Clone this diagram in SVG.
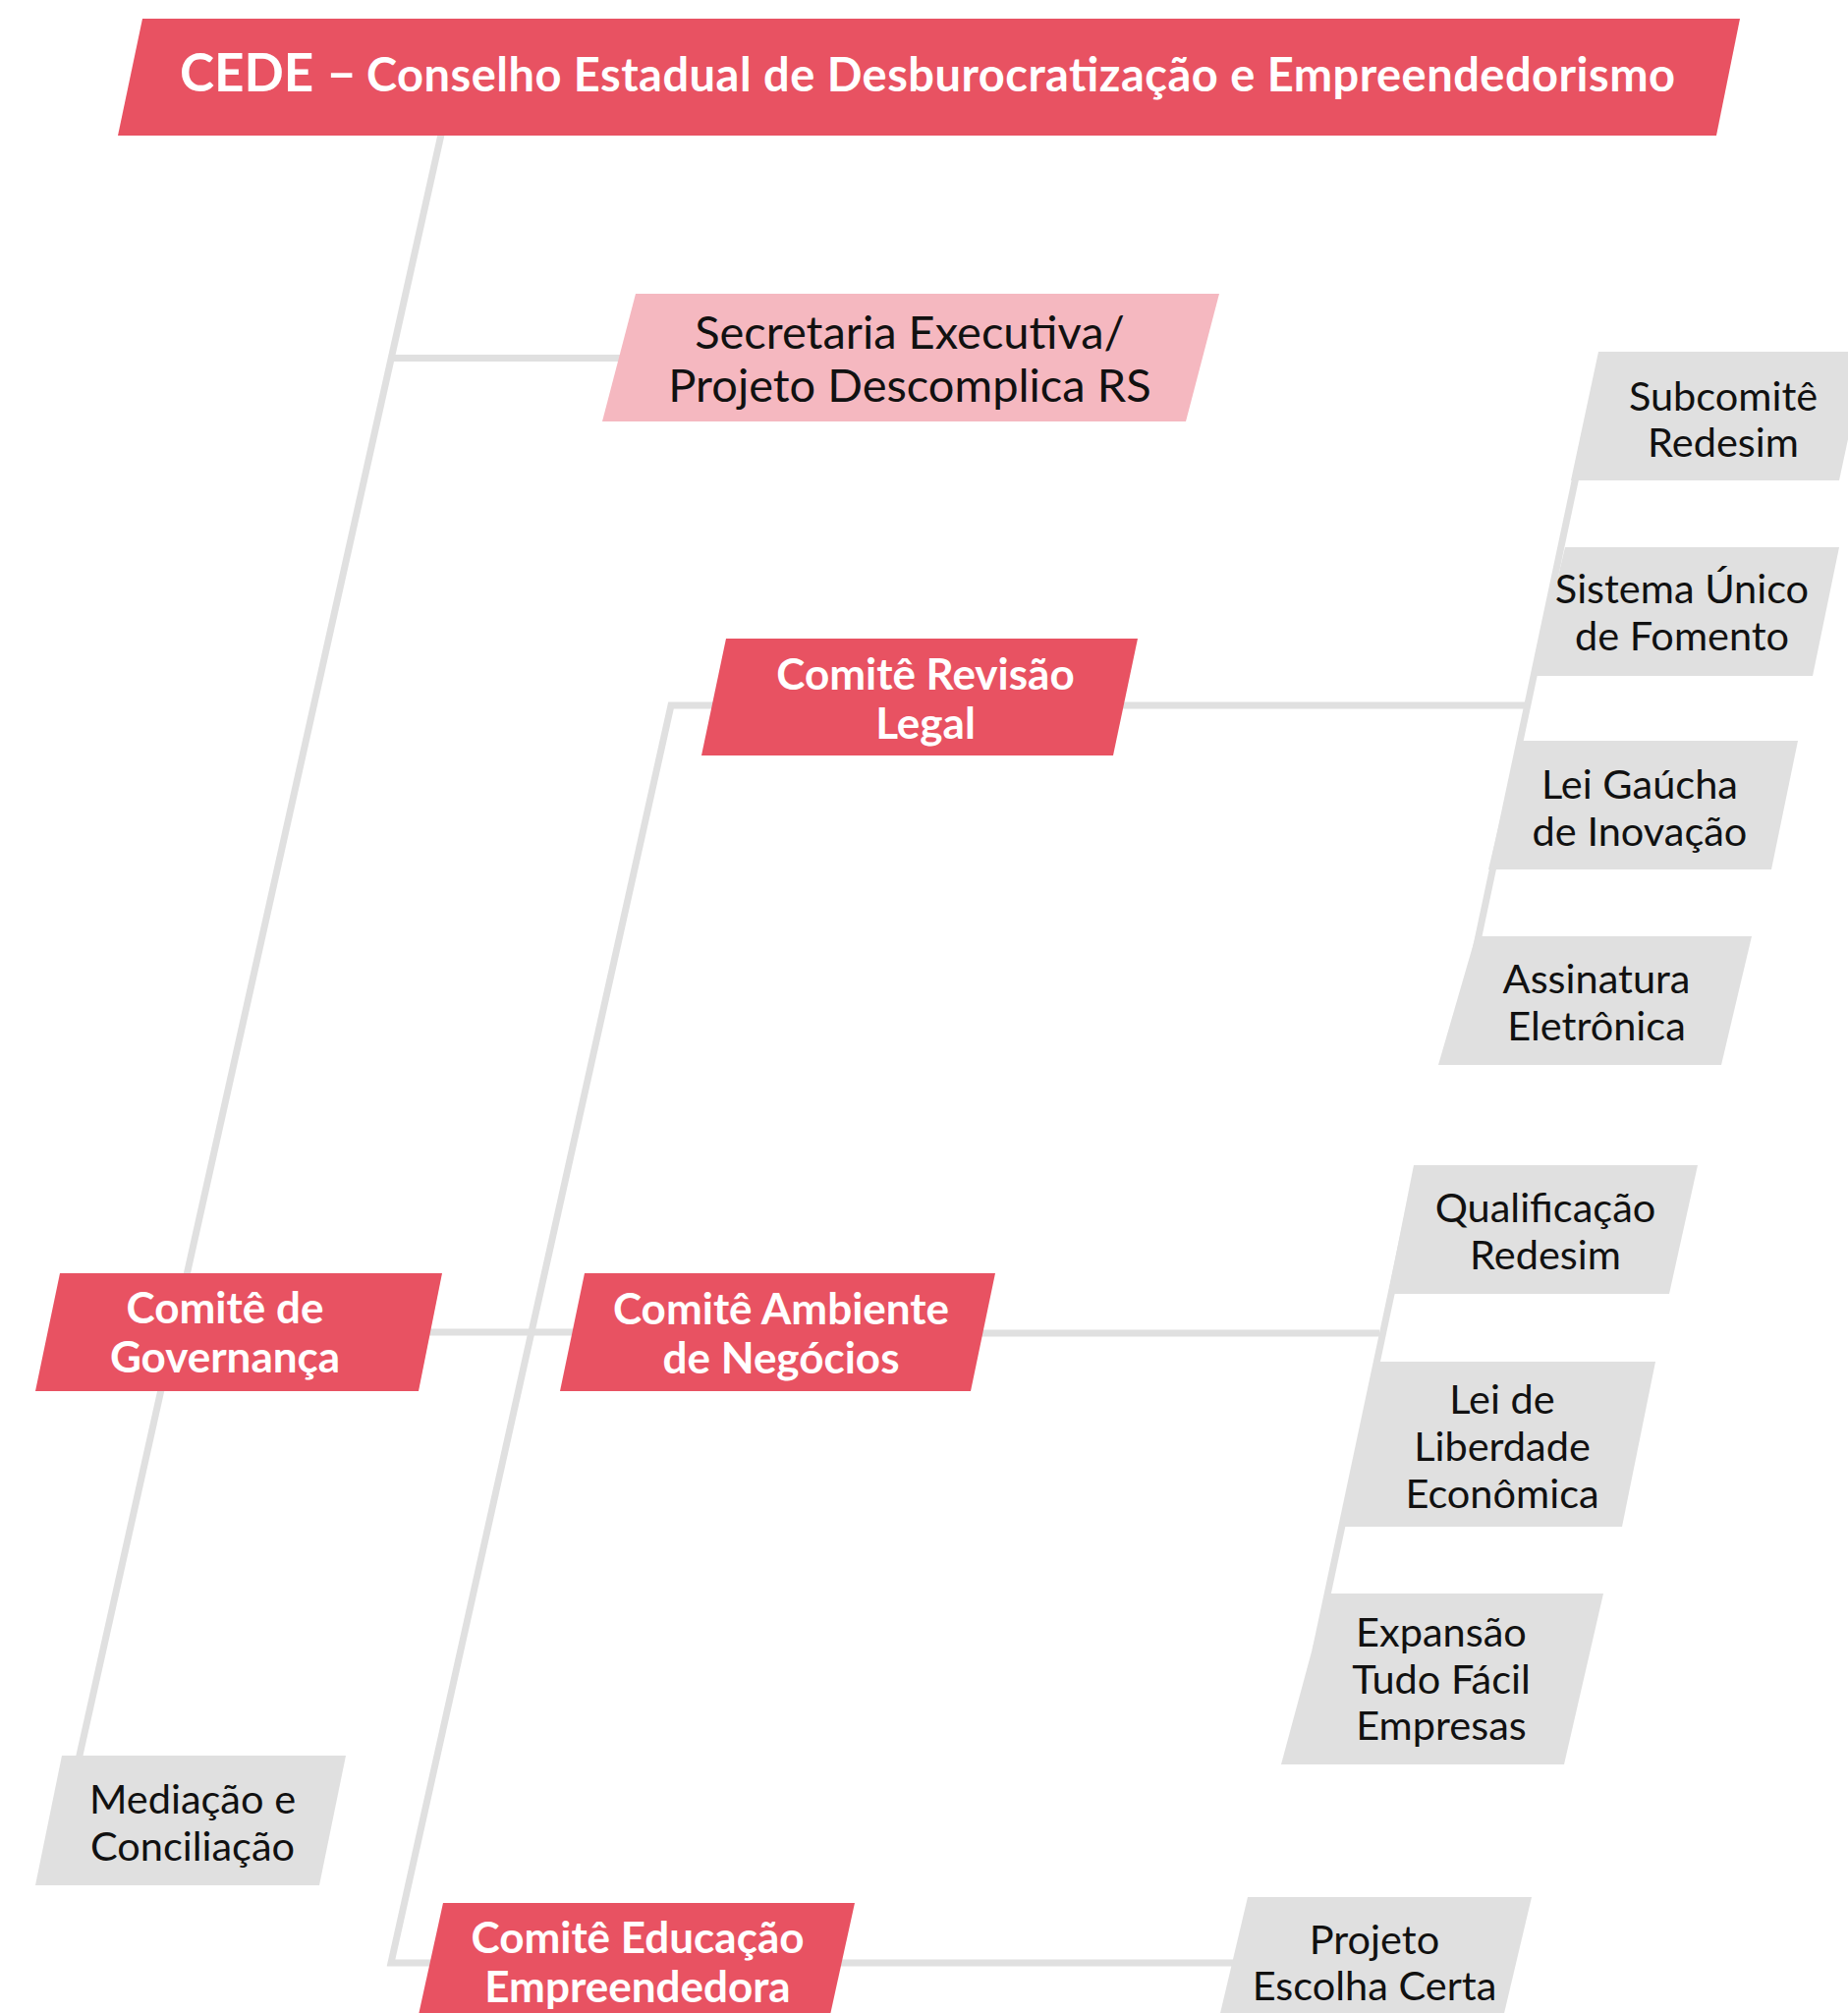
<svg xmlns="http://www.w3.org/2000/svg" width="1881" height="2049" viewBox="0 0 1881 2049">
<style>
.red{fill:#E85262}
.pink{fill:#F5B8C0}
.gray{fill:#E0E0E0}
.tw{font-family:Lato,"Liberation Sans",sans-serif;font-weight:700;fill:#fff;text-anchor:middle;font-size:44px}
.tb{font-family:Lato,"Liberation Sans",sans-serif;font-weight:400;fill:#111;text-anchor:middle;font-size:41.5px}
.conn{fill:none;stroke:#E0E0E0;stroke-width:7;stroke-linejoin:miter;stroke-linecap:butt}
</style>
<rect width="1881" height="2049" fill="#fff"/>
<g id="connectors" class="conn">
<path d="M449 137 L78 1800"/>
<path d="M398 364.5 H640"/>
<path d="M420 1356 H600"/>
<path d="M1557 718 H683 L398 1998 H1262"/>
<path d="M985 1357 H1404"/>
<path d="M1613.6 440 L1495 1000"/>
<path d="M1443 1190 L1339 1680"/>
</g>
<g id="title">
<polygon class="red" points="145,19 1771,19 1747,138 120,138"/>
<text x="183" y="93" font-family="Lato,'Liberation Sans',sans-serif" font-weight="700" fill="#fff" font-size="53">CEDE –</text>
<text x="373" y="93" font-family="Lato,'Liberation Sans',sans-serif" font-weight="700" fill="#fff" font-size="47" textLength="1332" lengthAdjust="spacing">Conselho Estadual de Desburocratização e Empreendedorismo</text>
</g>
<g id="secretaria">
<polygon class="pink" points="647,299 1241,299 1207,429 613,429"/>
<text class="tb" style="font-size:47px"><tspan x="926" y="355">Secretaria Executiva/</tspan><tspan x="926" y="409">Projeto Descomplica RS</tspan></text>
</g>
<g id="comite-revisao">
<polygon class="red" points="739,650 1158,650 1133,769 714,769"/>
<text class="tw"><tspan x="942" y="702">Comitê Revisão</tspan><tspan x="942" y="752">Legal</tspan></text>
</g>
<g id="comite-governanca">
<polygon class="red" points="61,1296 450,1296 426,1416 36,1416"/>
<text class="tw"><tspan x="229" y="1347">Comitê de</tspan><tspan x="229" y="1397">Governança</tspan></text>
</g>
<g id="comite-ambiente">
<polygon class="red" points="595,1296 1013,1296 988,1416 570,1416"/>
<text class="tw"><tspan x="795" y="1348">Comitê Ambiente</tspan><tspan x="795" y="1398">de Negócios</tspan></text>
</g>
<g id="comite-educacao">
<polygon class="red" points="451,1937 870,1937 843,2060 424,2060"/>
<text class="tw"><tspan x="649" y="1988">Comitê Educação</tspan><tspan x="649" y="2038">Empreendedora</tspan></text>
</g>
<g id="mediacao">
<polygon class="gray" points="63,1787 352,1787 325,1919 36,1919"/>
<text class="tb"><tspan x="196" y="1846">Mediação e</tspan><tspan x="196" y="1894">Conciliação</tspan></text>
</g>
<g id="subcomite-redesim">
<polygon class="gray" points="1627,358 1900,358 1872,489 1599,489"/>
<text class="tb"><tspan x="1754" y="418">Subcomitê</tspan><tspan x="1754" y="465">Redesim</tspan></text>
</g>
<g id="sistema-unico">
<polygon class="gray" points="1593,557 1872,557 1845,688 1562,688"/>
<text class="tb"><tspan x="1712" y="614">Sistema Único</tspan><tspan x="1712" y="662">de Fomento</tspan></text>
</g>
<g id="lei-gaucha">
<polygon class="gray" points="1546,754 1830,754 1803,885 1515,885"/>
<text class="tb"><tspan x="1669" y="813">Lei Gaúcha</tspan><tspan x="1669" y="861">de Inovação</tspan></text>
</g>
<g id="assinatura">
<polygon class="gray" points="1502,953 1783,953 1752,1084 1464,1084"/>
<text class="tb"><tspan x="1625" y="1011">Assinatura</tspan><tspan x="1625" y="1059">Eletrônica</tspan></text>
</g>
<g id="qualificacao">
<polygon class="gray" points="1439,1186 1728,1186 1699,1317 1413,1317"/>
<text class="tb"><tspan x="1573" y="1244">Qualificação</tspan><tspan x="1573" y="1292">Redesim</tspan></text>
</g>
<g id="lei-liberdade">
<polygon class="gray" points="1403,1386 1685,1386 1651,1554 1365,1554"/>
<text class="tb"><tspan x="1529" y="1439">Lei de</tspan><tspan x="1529" y="1487">Liberdade</tspan><tspan x="1529" y="1535">Econômica</tspan></text>
</g>
<g id="expansao">
<polygon class="gray" points="1351,1622 1632,1622 1592,1796 1304,1796"/>
<text class="tb"><tspan x="1467" y="1676">Expansão</tspan><tspan x="1467" y="1724">Tudo Fácil</tspan><tspan x="1467" y="1771">Empresas</tspan></text>
</g>
<g id="projeto-escolha">
<polygon class="gray" points="1270,1931 1559,1931 1528,2062 1239,2062"/>
<text class="tb"><tspan x="1399" y="1989">Projeto</tspan><tspan x="1399" y="2036">Escolha Certa</tspan></text>
</g>
</svg>
